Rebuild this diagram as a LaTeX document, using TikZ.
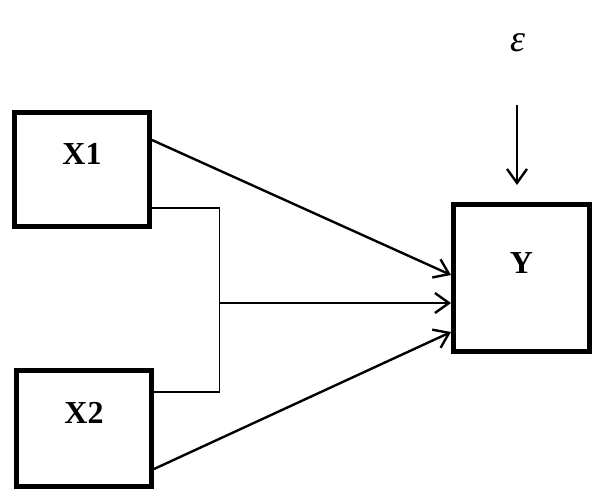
\documentclass[tikz,border=0pt]{standalone}
\usepackage{fontspec}
\setmainfont{Liberation Serif}
\usetikzlibrary{arrows.meta,calc}
\tikzset{
  var/.style={draw,line width=5pt,minimum width=135pt,inner sep=0pt,
    font=\fontsize{32}{36}\selectfont\bfseries,text height=22pt,text depth=32pt},
  effect/.style={-{Straight Barb[length=14pt,width=20pt]},line width=2.4pt},
  link/.style={line width=1.5pt},
}
\begin{document}
\begin{tikzpicture}[x=1pt,y=-1pt]
  \useasboundingbox (0,0) rectangle (596,498);
  \node[var,minimum height=114pt] (x1) at (82,169.5) {X1};
  \node[var,minimum height=116pt] (x2) at (84,428.5) {X2};
  \node[var,minimum width=136pt,minimum height=147pt] (y) at (521.5,278) {Y};
  \node[font=\fontsize{38}{44}\selectfont\itshape,inner sep=0pt] (eps) at (518,43) {ε};
  \coordinate (e) at (517,105);
  \coordinate (j) at (219.5,303);
  % paths into Y
  \draw[effect] ($(x1.north east)+(0,30)$) -- ($(y.west)+(0,-3)$);
  \draw[link] ($(x1.south east)+(0,-21)$) -| (j) |- ($(x2.north east)+(0,24)$);
  \draw[effect] (j) -- (j -| y.west);
  \draw[effect] ($(x2.south east)+(0,-20)$) -- ($(y.west)+(0,54)$);
  \draw[effect,shorten >=17pt] (e) -- (e |- y.north);
\end{tikzpicture}
\end{document}
